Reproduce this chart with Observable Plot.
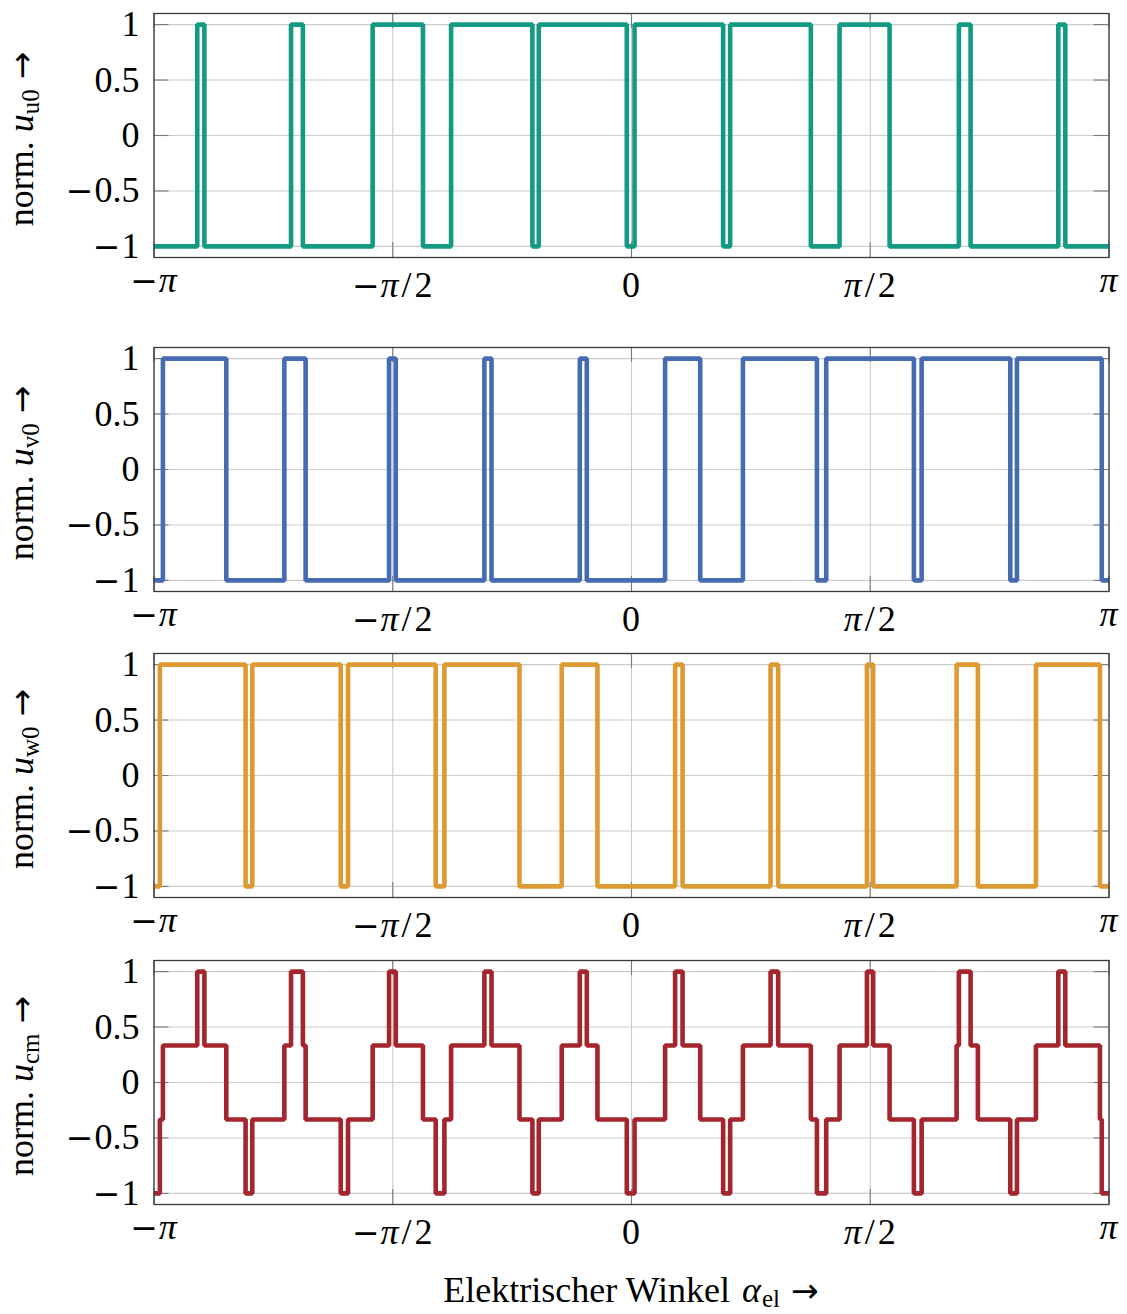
<!DOCTYPE html>
<html>
<head>
<meta charset="utf-8">
<script src="https://cdn.jsdelivr.net/npm/d3@7"></script>
<script src="https://cdn.jsdelivr.net/npm/@observablehq/plot@0.6"></script>
<style>
  body { margin: 0; background: #fff; }
  #chart { position: relative; width: 1127px; height: 1314px; background: #fff; }
  #chart svg { position: absolute; left: 0; overflow: visible; background: transparent; }
</style>
</head>
<body>
<div id="chart"></div>
<script>
const PI = Math.PI;

// Switching angles (rad). Each signal starts at -1 and toggles at every angle.
const uSwitch = [-2.857, -2.810, -2.240, -2.162, -1.703, -1.372, -1.187, -0.652, -0.610, -0.031,
                  0.020, 0.603, 0.649, 1.180, 1.369, 1.698, 2.154, 2.231, 2.808, 2.854];
const vSwitch = [-3.083, -2.666, -2.284, -2.144, -1.595, -1.551, -0.968, -0.921, -0.340, -0.294,
                  0.221, 0.452, 0.733, 1.220, 1.281, 1.858, 1.909, 2.492, 2.536, 3.094];
const wSwitch = [-3.103, -2.539, -2.495, -1.913, -1.865, -1.288, -1.231, -0.737, -0.459, -0.224,
                  0.287, 0.336, 0.915, 0.965, 1.549, 1.590, 2.139, 2.279, 2.661, 3.082];

// Common-mode voltage: step angles and the level after each step (starts at -1)
const cmSwitch = [-3.103, -3.083, -2.857, -2.810, -2.666, -2.539, -2.495, -2.284, -2.240, -2.162,
                  -2.144, -1.913, -1.865, -1.703, -1.595, -1.551, -1.372, -1.288, -1.231, -1.187,
                  -0.968, -0.921, -0.737, -0.652, -0.610, -0.459, -0.340, -0.294, -0.224, -0.031,
                   0.020, 0.221, 0.287, 0.336, 0.452, 0.603, 0.649, 0.733, 0.915, 0.965,
                   1.180, 1.220, 1.281, 1.369, 1.549, 1.590, 1.698, 1.858, 1.909, 2.139,
                   2.154, 2.231, 2.279, 2.492, 2.536, 2.661, 2.808, 2.854, 3.082, 3.094];
const cmLevel = [-1/3, 1/3, 1, 1/3, -1/3, -1, -1/3, 1/3, 1, 1/3,
                 -1/3, -1, -1/3, 1/3, 1, 1/3, -1/3, -1, -1/3, 1/3,
                  1, 1/3, -1/3, -1, -1/3, 1/3, 1, 1/3, -1/3, -1,
                 -1/3, 1/3, 1, 1/3, -1/3, -1, -1/3, 1/3, 1, 1/3,
                 -1/3, -1, -1/3, 1/3, 1, 1/3, -1/3, -1, -1/3, 1/3,
                  1, 1/3, -1/3, -1, -1/3, 1/3, 1, 1/3, -1/3, -1];

const xTicks = [-PI, -PI / 2, 0, PI / 2, PI];
const xTickLabels = ["−π", "−π/2", "0", "π/2", "π"];
const yTicks = [-1, -0.5, 0, 0.5, 1];
const yTickLabels = ["−1", "−0.5", "0", "0.5", "1"];

const seriesNames = ["u0", "v0", "w0", "cm"];
const seriesColors = ["#139a83", "#476bb0", "#de9a32", "#a3262e"];

function togglePoints(sw) {
  const pts = [{x: -PI, y: -1}];
  sw.forEach((a, i) => pts.push({x: a, y: i % 2 === 0 ? 1 : -1}));
  pts.push({x: PI, y: pts[pts.length - 1].y});
  return pts;
}
function levelPoints(sw, lv) {
  const pts = [{x: -PI, y: -1}];
  sw.forEach((a, i) => pts.push({x: a, y: lv[i]}));
  pts.push({x: PI, y: lv[lv.length - 1]});
  return pts;
}
const seriesData = [
  togglePoints(uSwitch),
  togglePoints(vSwitch),
  togglePoints(wSwitch),
  levelPoints(cmSwitch, cmLevel)
];

// layout
const FONT = '"Liberation Serif", "Times New Roman", Times, serif';
const SYM_FONT = '"DejaVu Serif", serif';
const ARROW_FONT = '"DejaVu Sans", sans-serif';
const FS = 36;
const W = 1127, ML = 153.5, MR = 18.5, MT = 20, FH = 244;
const FW = W - ML - MR;
const TICK = 15;
const frameTops = [13.3, 347, 653.3, 960.3];

const container = document.getElementById("chart");

// math-like label: italic π, wide minus, TeX-like slash spacing
function mathLabel(txt, lab) {
  let prev = null;
  for (const ch of lab) {
    const t = txt.append("tspan").text(ch);
    if (ch === "π") t.style("font-style", "italic");
    if (ch === "−") t.style("font-family", SYM_FONT).style("font-size", "33px");
    let dx = 0;
    if (prev === "−") dx += 1;
    if (ch === "/") dx += 3;
    if (prev === "/") dx += 3;
    if (dx) t.attr("dx", dx);
    prev = ch;
  }
}

seriesData.forEach((pts, idx) => {
  const last = idx === seriesData.length - 1;
  const MB = last ? 110 : 60;
  const H = MT + FH + MB;
  const svg = Plot.plot({
    width: W, height: H,
    marginLeft: ML, marginRight: MR, marginTop: MT, marginBottom: MB,
    x: {domain: [-PI, PI], axis: null},
    y: {domain: [-1.1, 1.1], axis: null},
    marks: [
      Plot.gridX(xTicks, {stroke: "#cccccc", strokeOpacity: 1, strokeWidth: 1.1}),
      Plot.gridY(yTicks, {stroke: "#cccccc", strokeOpacity: 1, strokeWidth: 1.1}),
      Plot.tickX(xTicks, {x: d => d, insetTop: FH - TICK, stroke: "#7a7a7a", strokeWidth: 1.1}),
      Plot.tickX(xTicks, {x: d => d, insetBottom: FH - TICK, stroke: "#7a7a7a", strokeWidth: 1.1}),
      Plot.tickY(yTicks, {y: d => d, insetRight: FW - TICK, stroke: "#7a7a7a", strokeWidth: 1.1}),
      Plot.tickY(yTicks, {y: d => d, insetLeft: FW - TICK, stroke: "#7a7a7a", strokeWidth: 1.1}),
      Plot.line(pts, {x: "x", y: "y", curve: "step-after", stroke: seriesColors[idx],
        strokeWidth: 4.6, strokeLinejoin: "miter", strokeLinecap: "butt"}),
      Plot.frame({stroke: "#3a3a3a", strokeWidth: 1.3})
    ]
  });
  svg.style.top = (frameTops[idx] - MT) + "px";
  container.appendChild(svg);

  const sx = svg.scale("x"), sy = svg.scale("y");
  const g = d3.select(svg).append("g")
    .style("font-family", FONT).style("font-size", FS + "px").attr("fill", "#000");

  // x tick labels
  xTicks.forEach((t, i) => {
    const lab = xTickLabels[i];
    const lift = (lab === "−π" || lab === "π") ? -5 : 0;
    const txt = g.append("text")
      .attr("x", sx.apply(t))
      .attr("y", MT + FH + 40 + lift)
      .attr("text-anchor", "middle");
    mathLabel(txt, lab);
  });

  // y tick labels
  yTicks.forEach((v, i) => {
    const txt = g.append("text")
      .attr("x", ML - 14)
      .attr("y", sy.apply(v) + 12)
      .attr("text-anchor", "end");
    mathLabel(txt, yTickLabels[i]);
  });

  // y axis title
  const yt = g.append("text")
    .attr("transform", `translate(33,${MT + FH / 2 + 4}) rotate(-90)`)
    .attr("text-anchor", "middle");
  yt.append("tspan").text("norm. ");
  yt.append("tspan").style("font-style", "italic").text("u");
  yt.append("tspan").attr("dy", 6).style("font-size", "25px").text(seriesNames[idx]);
  yt.append("tspan").attr("dy", -6).attr("dx", 10).style("font-family", ARROW_FONT).style("font-size", "33px").text("→");

  // x axis title (bottom panel only)
  if (last) {
    const xt = g.append("text")
      .attr("x", sx.apply(0))
      .attr("y", 1302 - (frameTops[idx] - MT))
      .attr("text-anchor", "middle");
    xt.append("tspan").text("Elektrischer Winkel ");
    xt.append("tspan").attr("dx", 3).style("font-style", "italic").text("α");
    xt.append("tspan").attr("dy", 5).attr("dx", 1).style("font-size", "25px").text("el");
    xt.append("tspan").attr("dy", -5).attr("dx", 11).style("font-family", ARROW_FONT).style("font-size", "33px").text("→");
  }
});
</script>
</body>
</html>
